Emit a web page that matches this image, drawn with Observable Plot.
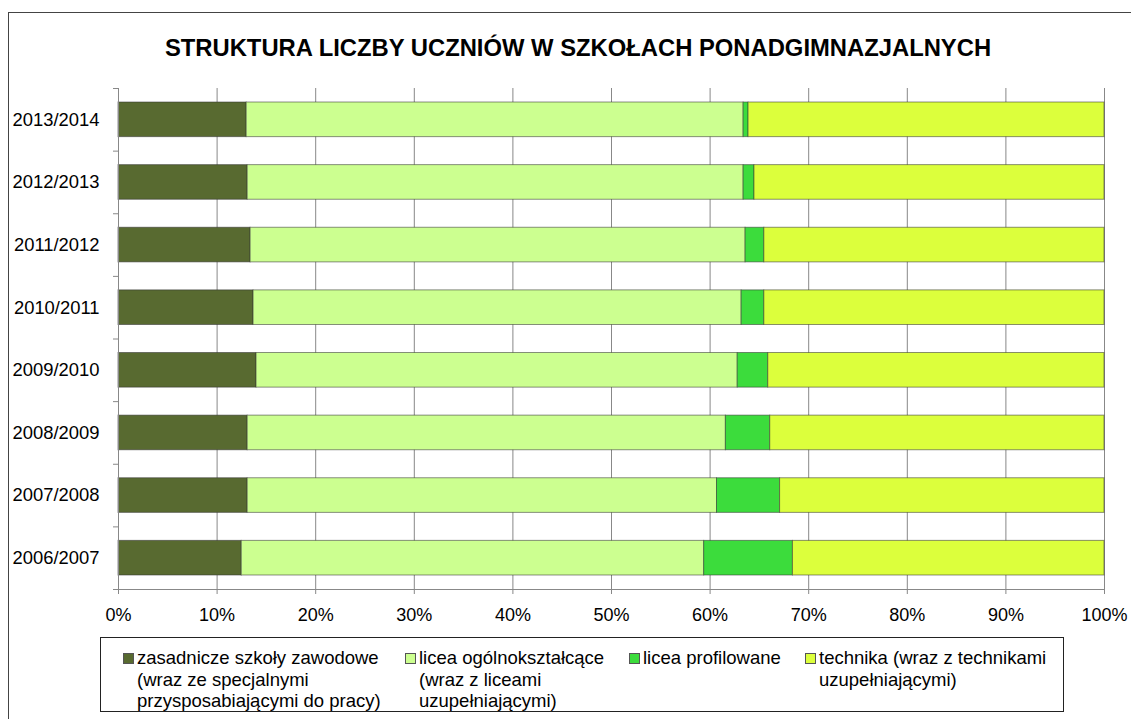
<!DOCTYPE html>
<html><head><meta charset="utf-8">
<script src="https://cdn.jsdelivr.net/npm/d3@7"></script>
<script src="https://cdn.jsdelivr.net/npm/@observablehq/plot@0.6"></script>
<style>
html,body{margin:0;padding:0;background:#fff;overflow:hidden;}
#wrap{position:relative;width:1131px;height:719px;font-family:"Liberation Sans",Arial,sans-serif;color:#000;}
#frame{position:absolute;left:8px;top:12px;width:1200px;height:800px;border:1px solid #444;box-sizing:border-box;}
#title{position:absolute;left:0;top:33px;width:1156px;text-align:center;font-weight:bold;font-size:23.8px;line-height:30px;}
#chart{position:absolute;left:0;top:0;}
#legend{position:absolute;left:100px;top:637px;width:964px;height:75px;border:1px solid #222;box-sizing:border-box;font-size:18.5px;line-height:21.5px;}
.item{position:absolute;top:9px;white-space:nowrap;}
.sw{position:absolute;left:-14px;top:5.5px;width:11px;height:11px;border:1px solid #555;box-sizing:border-box;}
</style></head>
<body>
<div id="wrap">
  <div id="frame"></div>
  <div id="chart"></div>
  <div id="title">STRUKTURA LICZBY UCZNIÓW W SZKOŁACH PONADGIMNAZJALNYCH</div>
  <div id="legend"></div>
</div>
<script>
const years = ["2006/2007","2007/2008","2008/2009","2009/2010","2010/2011","2011/2012","2012/2013","2013/2014"];
const zasadnicze = [12.5, 13.1, 13.1, 14.0, 13.7, 13.4, 13.1, 13.0];
const ogolnoksztalcace = [46.9, 47.6, 48.5, 48.8, 49.5, 50.2, 50.3, 50.4];
const profilowane = [9.0, 6.4, 4.5, 3.1, 2.3, 1.9, 1.1, 0.5];
const technika = [31.6, 32.9, 33.9, 34.1, 34.5, 34.5, 35.5, 36.1];
const seriesNames = [
  "zasadnicze szkoły zawodowe<br>(wraz ze specjalnymi<br>przysposabiającymi do pracy)",
  "licea ogólnokształcące<br>(wraz z liceami<br>uzupełniającymi)",
  "licea profilowane",
  "technika (wraz z technikami<br>uzupełniającymi)"
];
const seriesColors = ["#586a30", "#ccff90", "#3cdc3c", "#dcff3c"];
const xTicks = [0,10,20,30,40,50,60,70,80,90,100];

const seriesValues = [zasadnicze, ogolnoksztalcace, profilowane, technika];
const rows = [];
years.forEach((yr, i) => {
  let acc = 0;
  seriesValues.forEach((vals, s) => {
    rows.push({year: yr, i, s, x1: acc, x2: acc + vals[i]});
    acc += vals[i];
  });
});

const boundaries = d3.range(0, years.length + 1);
const centers = d3.range(0, years.length).map(i => i + 0.5);

const chart = Plot.plot({
  width: 1131,
  height: 630,
  marginTop: 88,
  marginBottom: 41,
  marginLeft: 118,
  marginRight: 27,
  style: {fontFamily: "'Liberation Sans', Arial, sans-serif", fontSize: "18px", color: "#000", background: "transparent"},
  x: {domain: [0, 100], ticks: xTicks},
  y: {domain: [0, years.length]},
  marks: [
    Plot.gridX(xTicks, {stroke: "#888", strokeOpacity: 1, strokeWidth: 1}),
    Plot.rectX(rows, {
      x1: "x1", x2: "x2",
      y1: d => d.i, y2: d => d.i + 1,
      insetTop: 14, insetBottom: 14,
      fill: d => seriesColors[d.s],
      stroke: "#333", strokeOpacity: 0.55, strokeWidth: 1
    }),
    Plot.ruleX([0], {stroke: "#888"}),
    Plot.ruleY([0], {stroke: "#888"}),
    Plot.axisX({ticks: xTicks, tickFormat: d => d + "%", tickSize: 5, tickPadding: 14, stroke: "#888", label: null}),
    Plot.axisY({ticks: boundaries, tickFormat: () => "", tickSize: 5, stroke: "#888", label: null}),
    Plot.axisY({ticks: centers, tickFormat: d => years[Math.floor(d)], tickSize: 0, tickPadding: 19, fontSize: 18.4, label: null})
  ]
});
document.getElementById("chart").appendChild(chart);

const legend = document.getElementById("legend");
const lefts = [36, 318, 542, 718];
seriesNames.forEach((name, s) => {
  const it = document.createElement("div");
  it.className = "item";
  it.style.left = lefts[s] + "px";
  it.innerHTML = `<span class="sw" style="background:${seriesColors[s]}"></span>${name}`;
  legend.appendChild(it);
});
</script>
</body></html>
